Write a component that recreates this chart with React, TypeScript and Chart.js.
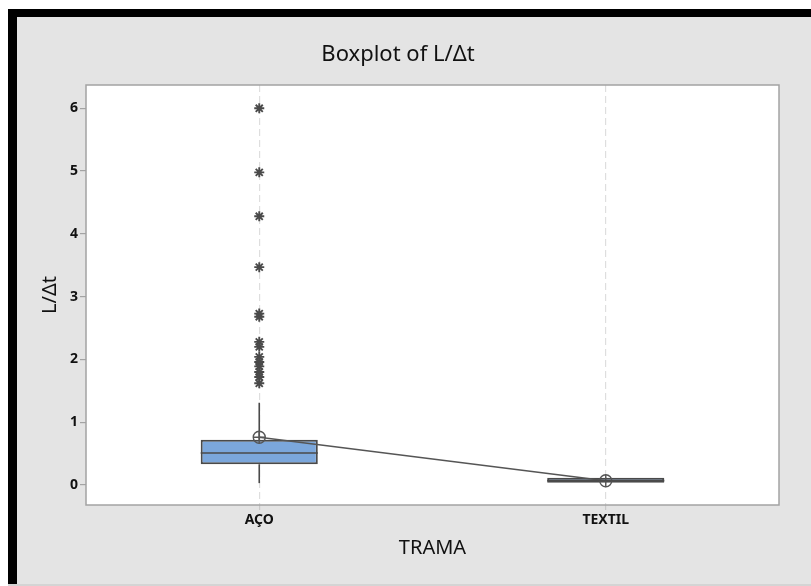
import React, { useEffect, useRef } from "react";
import { Chart, registerables } from "chart.js";

Chart.register(...registerables);

const CATEGORIES = ["AÇO", "TEXTIL"];
const CATEGORY_X = [0, 1];
const Q1 = [0.33, 0.035];
const MEDIAN = [0.51, 0.07];
const Q3 = [0.72, 0.115];
const WHISKER_LOW = [0.03, 0.03];
const WHISKER_HIGH = [1.31, 0.12];
const MEANS = [0.76, 0.068];
const OUTLIERS_ACO = [6.0, 4.98, 4.28, 3.47, 2.73, 2.68, 2.28, 2.2, 2.04, 1.96, 1.89, 1.8, 1.72, 1.62];
const Y_TICKS = [0, 1, 2, 3, 4, 5, 6];

const FONT = "'Noto Sans', 'DejaVu Sans', sans-serif";
const DARK = "#4a4a4a";

const framePlugin = {
  id: "frame",
  beforeDraw(chart: any) {
    const { ctx, chartArea: a } = chart;
    ctx.save();
    ctx.fillStyle = "#ffffff";
    ctx.fillRect(a.left, a.top, a.right - a.left, a.bottom - a.top);
    ctx.restore();
  },
  afterDatasetsDraw(chart: any) {
    const { ctx, scales } = chart;
    const meta = chart.getDatasetMeta(0);
    ctx.save();
    ctx.strokeStyle = DARK;
    ctx.lineWidth = 1.6;
    meta.data.forEach((bar: any, i: number) => {
      const y = scales.y.getPixelForValue(MEDIAN[i]);
      ctx.beginPath();
      ctx.moveTo(bar.x - bar.width / 2, y);
      ctx.lineTo(bar.x + bar.width / 2, y);
      ctx.stroke();
    });
    ctx.restore();
  },
  afterDraw(chart: any) {
    const { ctx, chartArea: a } = chart;
    ctx.save();
    ctx.strokeStyle = "#a3a3a3";
    ctx.lineWidth = 1.5;
    ctx.strokeRect(a.left, a.top, a.right - a.left, a.bottom - a.top);
    ctx.restore();
  },
};

export default function App() {
  const ref = useRef<HTMLCanvasElement | null>(null);

  useEffect(() => {
    if (!ref.current) return;
    const whiskers: any[] = [];
    CATEGORY_X.forEach((x, i) => {
      whiskers.push({
        type: "line",
        data: [
          { x, y: Q3[i] },
          { x, y: WHISKER_HIGH[i] },
        ],
        borderColor: DARK,
        borderWidth: 1.6,
        pointRadius: 0,
        order: 5,
      });
      whiskers.push({
        type: "line",
        data: [
          { x, y: WHISKER_LOW[i] },
          { x, y: Q1[i] },
        ],
        borderColor: DARK,
        borderWidth: 1.6,
        pointRadius: 0,
        order: 5,
      });
    });

    const chart = new Chart(ref.current, {
      type: "bar",
      data: {
        datasets: [
          {
            type: "bar",
            data: CATEGORY_X.map((x, i) => ({ x, y: [Q1[i], Q3[i]] })),
            backgroundColor: "#7ba7dc",
            borderColor: DARK,
            borderWidth: 2,
            borderSkipped: false,
            barPercentage: 0.338,
            categoryPercentage: 1,
            order: 4,
          } as any,
          ...whiskers,
          {
            type: "scatter",
            data: OUTLIERS_ACO.map((y) => ({ x: CATEGORY_X[0], y })),
            pointStyle: "star",
            pointRadius: 5,
            borderColor: DARK,
            borderWidth: 1.9,
            order: 3,
          } as any,
          {
            type: "line",
            data: CATEGORY_X.map((x, i) => ({ x, y: MEANS[i] })),
            borderColor: "#555555",
            borderWidth: 1.5,
            pointStyle: "circle",
            pointRadius: 6,
            pointBackgroundColor: "rgba(0,0,0,0)",
            pointBorderColor: "#555555",
            pointBorderWidth: 1.4,
            order: 2,
          } as any,
          {
            type: "scatter",
            data: CATEGORY_X.map((x, i) => ({ x, y: MEANS[i] })),
            pointStyle: "cross",
            pointRadius: 6,
            borderColor: "#555555",
            borderWidth: 1.4,
            order: 1,
          } as any,
        ],
      },
      options: {
        animation: false,
        responsive: false,
        maintainAspectRatio: false,
        layout: { padding: { left: 0, right: 32, top: 0, bottom: 0 } },
        plugins: {
          legend: { display: false },
          tooltip: { enabled: false },
          title: {
            display: true,
            text: "Boxplot of L/Δt",
            color: "#111111",
            font: { family: FONT, size: 22, weight: "normal" },
            padding: { top: 24.8, bottom: 16.8 },
          },
        },
        scales: {
          x: {
            type: "linear",
            min: -0.5,
            max: 1.5,
            offset: false,
            afterBuildTicks: (s: any) => {
              s.ticks = CATEGORY_X.map((v) => ({ value: v }));
            },
            afterFit: (s: any) => {
              s.height = 79;
            },
            ticks: {
              callback: (v: any) => CATEGORIES[CATEGORY_X.indexOf(Number(v))] ?? "",
              color: "#111111",
              font: { family: FONT, size: 14, weight: "bold" },
              padding: 2,
              maxRotation: 0,
            },
            grid: {
              display: true,
              offset: false,
              drawOnChartArea: true,
              color: "#dedede",
              lineWidth: 1.2,
              tickLength: 5,
              tickColor: "#c8c8c8",
            },
            border: { display: false, dash: [7, 4] },
            title: {
              display: true,
              text: "TRAMA",
              color: "#111111",
              font: { family: FONT, size: 20, weight: "normal" },
              padding: { top: 0, bottom: 24 },
            },
          },
          y: {
            type: "linear",
            min: -0.3186,
            max: 6.371,
            afterBuildTicks: (s: any) => {
              s.ticks = Y_TICKS.map((v) => ({ value: v }));
            },
            afterFit: (s: any) => {
              s.width = 69;
            },
            ticks: {
              color: "#111111",
              font: { family: FONT, size: 14, weight: "bold" },
              padding: 2,
            },
            grid: {
              display: true,
              drawOnChartArea: false,
              tickLength: 6,
              tickColor: "#a3a3a3",
              lineWidth: 1.2,
            },
            border: { display: false },
            title: {
              display: true,
              text: "L/Δt",
              color: "#111111",
              font: { family: FONT, size: 20, weight: "normal" },
              padding: { top: 21, bottom: 0 },
            },
          },
        },
      } as any,
      plugins: [framePlugin],
    });
    return () => chart.destroy();
  }, []);

  return (
    <div
      style={{
        position: "absolute",
        left: 0,
        top: 0,
        width: 811,
        height: 586,
        background: "#ffffff",
        overflow: "hidden",
      }}
    >
      <div
        style={{
          position: "absolute",
          left: 8,
          top: 9,
          width: 803,
          height: 575,
          boxSizing: "border-box",
          borderLeft: "9px solid #000",
          borderTop: "8px solid #000",
          background: "#e4e4e4",
        }}
      >
        <canvas
          ref={ref}
          width={794}
          height={567}
          style={{ display: "block", width: 794, height: 567 }}
        />
      </div>
      <div
        style={{
          position: "absolute",
          left: 8,
          top: 584,
          width: 803,
          height: 2,
          background: "#d4d4d4",
        }}
      />
    </div>
  );
}
